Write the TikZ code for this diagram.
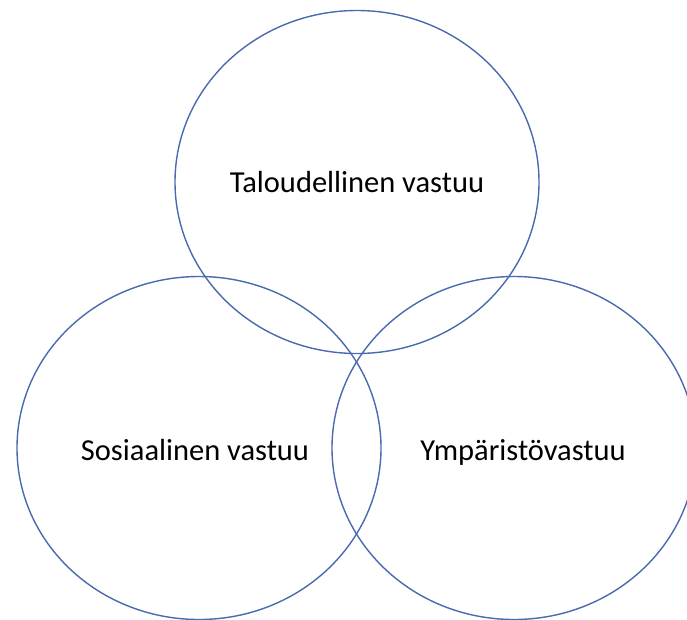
\documentclass[tikz,border=0pt]{standalone}
\usepackage{fontspec}
\setmainfont{Carlito}
\usetikzlibrary{shapes.geometric}
\definecolor{ringblue}{HTML}{4A6AAE}
\tikzset{
  ring/.style={draw=ringblue, line width=1.4pt, ellipse, inner sep=0pt,
               minimum width=364pt, minimum height=343pt,
               text height=24pt, text depth=4pt,
               font=\fontsize{30.5}{36}\selectfont}
}
\begin{document}
\begin{tikzpicture}[x=1pt,y=-1pt]
  \useasboundingbox (0,0) rectangle (687,619);
  \begin{scope}
    \clip (0,0) rectangle (687,619);
    \node[ring] (talous) at (357,182) {Taloudellinen vastuu};
    \node[ring, text height=28pt] (sosiaali) at (199,448) {\hspace*{-8pt}Sosiaalinen vastuu};
    \node[ring, text height=28pt] (ymparisto) at (514,448) {\hspace*{18pt}Ympäristövastuu};
  \end{scope}
\end{tikzpicture}
\end{document}
